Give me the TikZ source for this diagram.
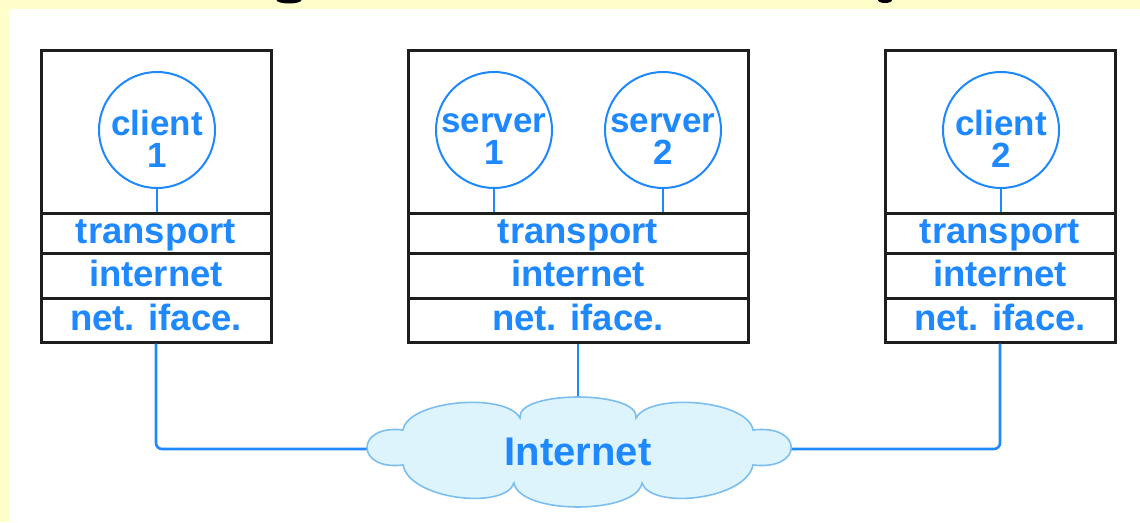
\documentclass[tikz,border=0pt]{standalone}
\usepackage{fontspec}
\setmainfont{Liberation Sans}
\begin{document}
\begin{tikzpicture}[x=1pt,y=1pt]
\definecolor{bgyellow}{RGB}{255,255,204}
\definecolor{netblue}{RGB}{30,136,255}
\definecolor{cloudfill}{RGB}{222,244,252}
\definecolor{cloudline}{RGB}{125,190,240}
\definecolor{boxline}{RGB}{30,30,30}
\tikzset{
 layer/.style={draw=boxline, line width=3pt, inner sep=0pt, text height=26pt, text depth=5pt,
   font=\fontsize{36.5}{36}\bfseries\selectfont, text=netblue},
 hosttop/.style={draw=boxline, line width=3pt, inner sep=0pt},
 proc/.style={circle, draw=netblue, line width=2pt, minimum size=116pt, inner sep=0pt},
 proctext/.style={align=center, font=\fontsize{35}{32}\bfseries\selectfont, text=netblue, inner sep=0pt},
 link/.style={draw=netblue, line width=2.6pt},
 stem/.style={draw=netblue, line width=2pt},
 cloudtext/.style={font=\fontsize{40}{40}\bfseries\selectfont, text=netblue},
}
% background
\fill[bgyellow] (0,0) rectangle (1140,-522);
\fill[white] (9,-9) rectangle (1140,-522);
\useasboundingbox (0,0) rectangle (1140,-522);
% cut-off title fragments
\fill[black] (289,0) ellipse (12.5 and 3.5);
\fill[black] (885,0) ellipse (7 and 3);

% left host
\node[hosttop, minimum width=230pt, minimum height=163pt] (h1) at (156,-131.5) {};
\node[layer, minimum width=230pt, minimum height=40pt] (h1t) at (156,-233) {transport};
\node[layer, minimum width=230pt, minimum height=45pt] (h1i) at (156,-275.5) {internet};
\node[layer, minimum width=230pt, minimum height=44pt] (h1n) at (156,-320) {net. iface.};
\node[proc] (p1) at (157,-130) {};
\node[proctext] (p1t) at ([yshift=-9pt]p1.center) {client\\1};
\draw[stem] (p1.south) -- (p1.south |- h1t.north);

% middle host
\node[hosttop, minimum width=340pt, minimum height=163pt] (h2) at (578,-131.5) {};
\node[layer, minimum width=340pt, minimum height=40pt] (h2t) at (578,-233) {transport};
\node[layer, minimum width=340pt, minimum height=45pt] (h2i) at (578,-275.5) {internet};
\node[layer, minimum width=340pt, minimum height=44pt] (h2n) at (578,-320) {net. iface.};
\node[proc] (s1) at (494,-130) {};
\node[proctext] (s1t) at ([yshift=-9pt]s1.center) {server\\1};
\node[proc] (s2) at (663,-130) {};
\node[proctext] (s2t) at ([yshift=-9pt]s2.center) {server\\2};
\draw[stem] (s1.south) -- (s1.south |- h2t.north);
\draw[stem] (s2.south) -- (s2.south |- h2t.north);

% right host
\node[hosttop, minimum width=230pt, minimum height=163pt] (h3) at (1000,-131.5) {};
\node[layer, minimum width=230pt, minimum height=40pt] (h3t) at (1000,-233) {transport};
\node[layer, minimum width=230pt, minimum height=45pt] (h3i) at (1000,-275.5) {internet};
\node[layer, minimum width=230pt, minimum height=44pt] (h3n) at (1000,-320) {net. iface.};
\node[proc] (p2) at (1001,-130) {};
\node[proctext] (p2t) at ([yshift=-9pt]p2.center) {client\\2};
\draw[stem] (p2.south) -- (p2.south |- h3t.north);

% cloud anchors
\coordinate (cW) at (367,-449);
\coordinate (cE) at (790,-449);
\coordinate (cN) at (578,-399);

% connectors
\draw[link, rounded corners=6pt] (h1n.south) |- (cW);
\draw[link, rounded corners=6pt] (h3n.south) |- (cE);
\draw[link] (h2n.south) -- (cN);

% cloud
\filldraw[fill=cloudfill, draw=cloudline, line width=1.6pt]
 (403,-430) .. controls (355,-424) and (355,-471) .. (403,-465)
 .. controls (410,-500) and (505,-510) .. (514,-483)
 .. controls (520,-515) and (636,-515) .. (642,-483)
 .. controls (651,-510) and (746,-500) .. (753,-465)
 .. controls (804,-471) and (804,-424) .. (753,-430)
 .. controls (748,-400) and (650,-392) .. (636,-418)
 .. controls (640,-390) and (516,-390) .. (520,-418)
 .. controls (506,-392) and (408,-400) .. (403,-430) -- cycle;
\node[cloudtext] (inet) at (578,-452) {Internet};
\end{tikzpicture}
\end{document}
